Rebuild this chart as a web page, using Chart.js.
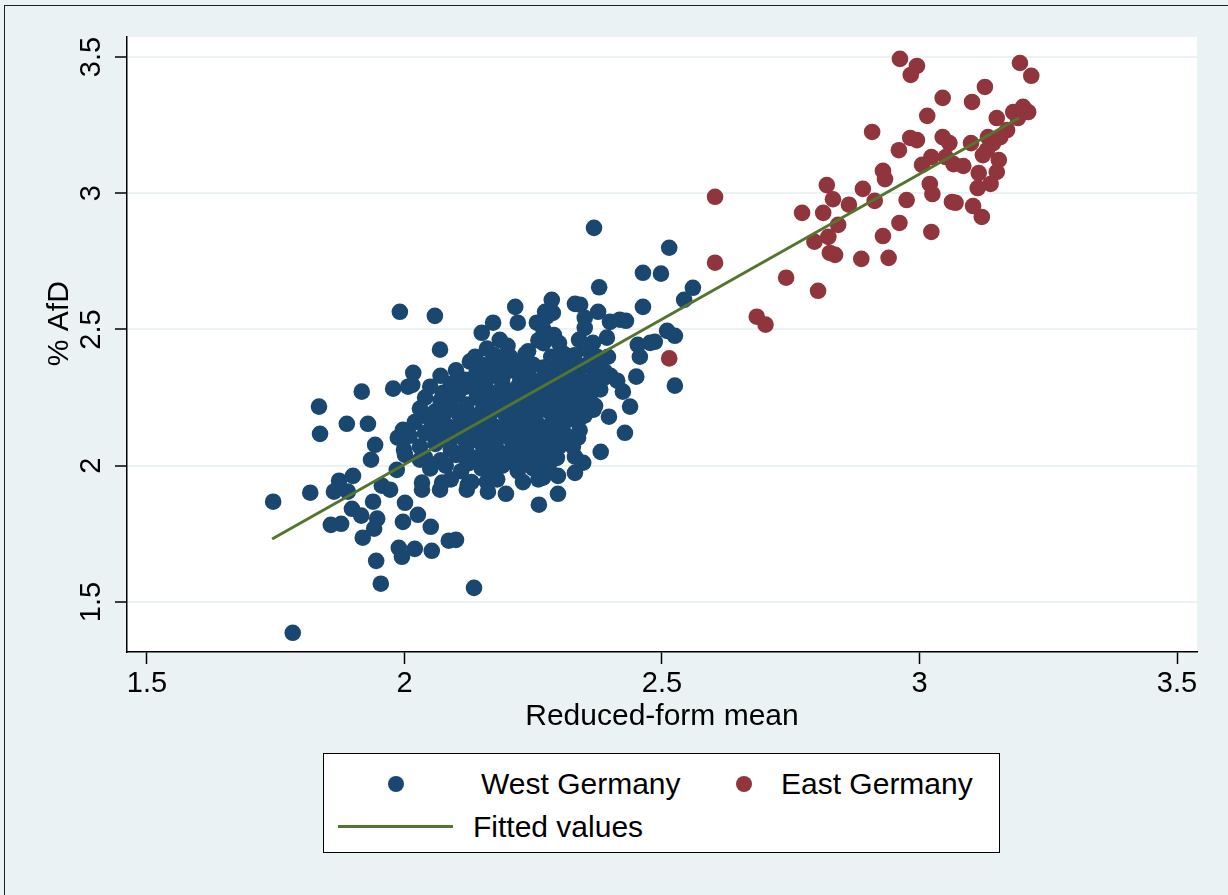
<!DOCTYPE html>
<html>
<head>
<meta charset="utf-8">
<script src="https://cdn.jsdelivr.net/npm/chart.js@4.4.3/dist/chart.umd.min.js"></script>
<style>
  html, body { margin: 0; padding: 0; overflow: hidden; }
  #wrap { position: relative; width: 1228px; height: 895px; background: #EAF2F3; }
  #frame { position: absolute; left: 4px; top: 5px; right: -10px; bottom: -10px;
    border-left: 1.5px solid #222; border-top: 1.5px solid #222; }
  #chart { position: absolute; left: 0; top: 0; }
  #legend { position: absolute; left: 323px; top: 753px; width: 677px; height: 100px;
    box-sizing: border-box; border: 1.5px solid #000; background: #fff;
    font-family: "Liberation Sans", Arial, Helvetica, sans-serif; font-size: 30px; color: #000; }
  #legend .dot { position: absolute; width: 16px; height: 16px; border-radius: 50%; }
  #legend .txt { position: absolute; line-height: 36px; white-space: nowrap; }
  #legend .ln { position: absolute; height: 3px; }
</style>
</head>
<body>
<div id="wrap">
  <div id="frame"></div>
  <canvas id="chart" width="1228" height="895"></canvas>
  <div id="legend"></div>
</div>
<script>
// Axis ranges and tick labels
const xTicks = [1.5, 2, 2.5, 3, 3.5];
const yTicks = [1.5, 2, 2.5, 3, 3.5];
const xRange = [1.4612, 3.5388];
const yRange = [1.3165, 3.5734];

// West Germany districts (reduced-form mean, % AfD)
const westX = [
  1.745, 1.783, 1.817, 1.834, 1.836, 1.888, 1.917, 1.929, 1.943, 1.935, 1.978, 2.007, 1.997, 1.987, 1.999, 1.985,
  1.900, 1.873, 1.863, 1.890, 1.956, 1.972, 1.939, 2.001, 1.898, 1.916, 1.947, 1.941, 1.857, 1.877, 1.997, 1.919,
  1.989, 1.995, 1.945, 1.954,
  2.026, 2.051, 2.086, 2.100, 2.020, 2.053, 2.135, 2.261, 2.197, 2.162, 2.121, 2.069, 2.034,
  1.991, 2.059, 2.215, 2.172, 2.150, 2.069, 2.137, 2.172, 2.185, 2.220, 2.257, 2.273, 2.286,
  2.368, 2.514, 2.463, 2.498, 2.378, 2.560, 2.543, 2.331, 2.341, 2.463, 2.376, 2.288, 2.276, 2.350, 2.399, 2.418,
  2.430, 2.350, 2.510, 2.525, 2.393, 2.339, 2.366, 2.453, 2.477, 2.486, 2.395, 2.457, 2.374,
  2.525, 2.450, 2.413, 2.424, 2.438, 2.397, 2.428, 2.381, 2.367, 2.345, 2.335, 2.341, 2.337, 2.306, 2.327, 2.331,
  2.347, 2.331, 2.296, 2.298, 2.269, 2.298, 2.279, 2.389, 2.373, 2.314,
  2.127, 2.185, 2.152, 2.017, 2.015, 2.114, 2.075, 2.102, 2.034, 2.050, 2.030, 2.001, 2.034, 2.073, 2.123, 2.160,
  2.121, 2.166,
  2.27, 2.29, 2.26, 2.30,
  2.16, 2.20, 2.24, 2.27, 2.31, 2.35,
  2.15, 2.19, 2.22, 2.25, 2.29, 2.32, 2.36,
  2.07, 2.10, 2.14, 2.17, 2.21, 2.24, 2.27, 2.30, 2.33, 2.37, 2.40,
  2.05, 2.09, 2.12, 2.16, 2.19, 2.22, 2.25, 2.28, 2.31, 2.34, 2.38,
  2.04, 2.07, 2.10, 2.14, 2.17, 2.20, 2.23, 2.26, 2.29, 2.32, 2.36,
  2.03, 2.06, 2.09, 2.12, 2.15, 2.18, 2.21, 2.24, 2.27, 2.30, 2.33, 2.37,
  2.02, 2.05, 2.08, 2.11, 2.14, 2.17, 2.20, 2.23, 2.26, 2.29, 2.32,
  2.01, 2.04, 2.07, 2.10, 2.13, 2.16, 2.19, 2.22, 2.25, 2.28, 2.31, 2.34,
  2.03, 2.06, 2.09, 2.12, 2.15, 2.18, 2.21, 2.24, 2.27, 2.30,
  2.04, 2.07, 2.10, 2.14, 2.17, 2.20, 2.23, 2.26, 2.29,
  2.05, 2.08, 2.11, 2.15, 2.19, 2.22, 2.25, 2.28,
  2.09, 2.13, 2.18, 2.23, 2.26,
  // dense core, second layer
  2.175, 2.205, 2.235, 2.285, 2.330,
  2.165, 2.205, 2.235, 2.270, 2.305, 2.345, 2.380,
  2.125, 2.155, 2.190, 2.225, 2.255, 2.285, 2.315, 2.350, 2.385,
  2.105, 2.140, 2.175, 2.205, 2.235, 2.265, 2.295, 2.325, 2.360,
  2.085, 2.120, 2.155, 2.185, 2.215, 2.245, 2.275, 2.305, 2.340,
  2.075, 2.105, 2.135, 2.165, 2.195, 2.225, 2.255, 2.285, 2.315, 2.350,
  2.095, 2.125, 2.155, 2.185, 2.215, 2.245, 2.275, 2.305,
  2.085, 2.115, 2.145, 2.175, 2.205, 2.235, 2.265, 2.290,
  2.115, 2.155, 2.185, 2.215, 2.245, 2.275,
  2.125, 2.160, 2.205, 2.240, 2.270
];
const westY = [
  1.868, 1.387, 1.901, 2.217, 2.117, 2.154, 2.272, 2.154, 2.077, 2.022, 2.283, 2.290, 2.132, 2.103, 2.059, 1.985,
  1.963, 1.945, 1.905, 1.905, 1.927, 1.912, 1.868, 1.864, 1.842, 1.817, 1.806, 1.769, 1.783, 1.787, 1.794, 1.736,
  1.699, 1.666, 1.651, 1.567,
  1.820, 1.776, 1.725, 1.728, 1.695, 1.688, 1.552, 1.857, 1.897, 1.905, 1.912, 1.912, 1.912,
  2.565, 2.550, 2.583, 2.525, 2.488, 2.426, 2.400, 2.407, 2.462, 2.525, 2.525, 2.565, 2.609,
  2.873, 2.800, 2.708, 2.705, 2.655, 2.653, 2.609, 2.594, 2.591, 2.583, 2.565, 2.561, 2.547, 2.543, 2.528, 2.536,
  2.532, 2.506, 2.495, 2.477, 2.470, 2.462, 2.451, 2.444, 2.451, 2.455, 2.400, 2.400, 2.400,
  2.294, 2.327, 2.312, 2.272, 2.217, 2.180, 2.121, 2.051, 2.206, 2.253, 2.217, 2.176, 2.103, 2.095, 2.070, 2.033,
  2.011, 1.974, 2.029, 1.963, 1.956, 1.897, 2.139, 2.345, 2.286, 2.283,
  2.382, 2.363, 2.323, 2.341, 2.297, 2.316, 2.268, 2.279, 2.198, 2.132, 2.022, 2.040, 1.938, 1.938, 1.930, 1.941,
  2.022, 1.985,
  2.50, 2.48, 2.46, 2.45,
  2.43, 2.44, 2.42, 2.45, 2.41, 2.43,
  2.37, 2.39, 2.38, 2.37, 2.39, 2.37, 2.38,
  2.33, 2.35, 2.34, 2.33, 2.35, 2.34, 2.32, 2.35, 2.33, 2.34, 2.33,
  2.29, 2.30, 2.29, 2.28, 2.30, 2.29, 2.28, 2.30, 2.29, 2.30, 2.28,
  2.25, 2.24, 2.26, 2.25, 2.24, 2.26, 2.25, 2.24, 2.26, 2.25, 2.24,
  2.21, 2.20, 2.22, 2.21, 2.20, 2.22, 2.21, 2.20, 2.22, 2.21, 2.20, 2.22,
  2.16, 2.17, 2.15, 2.16, 2.17, 2.15, 2.16, 2.17, 2.15, 2.16, 2.17,
  2.11, 2.12, 2.13, 2.11, 2.12, 2.13, 2.11, 2.12, 2.13, 2.11, 2.12, 2.13,
  2.07, 2.08, 2.06, 2.07, 2.08, 2.06, 2.07, 2.08, 2.06, 2.07,
  2.03, 2.02, 2.04, 2.03, 2.02, 2.04, 2.03, 2.02, 2.04,
  1.99, 2.00, 1.98, 1.99, 2.00, 1.98, 1.99, 2.00,
  1.95, 1.94, 1.95, 1.94, 1.95,
  // dense core, second layer
  2.405, 2.40, 2.41, 2.40, 2.405,
  2.36, 2.355, 2.365, 2.36, 2.355, 2.365, 2.36,
  2.315, 2.31, 2.32, 2.315, 2.31, 2.32, 2.315, 2.31, 2.32,
  2.27, 2.275, 2.265, 2.27, 2.275, 2.265, 2.27, 2.275, 2.265,
  2.23, 2.225, 2.235, 2.23, 2.225, 2.235, 2.23, 2.225, 2.235,
  2.185, 2.19, 2.18, 2.185, 2.19, 2.18, 2.185, 2.19, 2.18, 2.185,
  2.14, 2.135, 2.145, 2.14, 2.135, 2.145, 2.14, 2.135,
  2.095, 2.10, 2.09, 2.095, 2.10, 2.09, 2.095, 2.10,
  2.05, 2.055, 2.045, 2.05, 2.055, 2.045,
  2.01, 2.005, 2.015, 2.01, 2.005
];

// East Germany districts
const eastX = [
  2.514, 2.603, 2.603, 2.772, 2.813, 2.820, 2.832, 2.863, 2.842, 2.823, 2.796, 2.826, 2.836, 2.741, 2.803, 2.684,
  2.701, 2.962, 2.995, 2.983, 3.195, 3.217, 3.127, 3.045, 3.102, 3.015, 2.908, 3.150, 3.182, 3.201, 3.211, 3.191,
  3.170, 3.157, 3.133, 3.143, 3.131, 3.123, 3.100, 3.045, 3.058, 2.982, 2.995, 2.960, 3.023, 3.005, 3.051, 3.066,
  3.085, 3.154, 3.150, 3.115, 3.138, 3.113, 2.929, 2.933, 3.020, 3.025, 2.890, 2.913, 2.975, 3.063, 3.070, 3.104,
  3.121, 2.961, 3.023, 2.929, 2.887, 2.940
];
const eastY = [
  2.394, 2.987, 2.745, 2.928, 2.928, 3.030, 2.978, 2.958, 2.884, 2.840, 2.822, 2.781, 2.774, 2.690, 2.642, 2.547,
  2.518, 3.493, 3.467, 3.434, 3.478, 3.431, 3.390, 3.350, 3.335, 3.284, 3.225, 3.276, 3.298, 3.317, 3.298, 3.276,
  3.232, 3.206, 3.206, 3.184, 3.158, 3.140, 3.184, 3.206, 3.184, 3.203, 3.195, 3.158, 3.133, 3.104, 3.133, 3.107,
  3.100, 3.122, 3.078, 3.074, 3.034, 3.019, 3.082, 3.052, 3.034, 2.997, 3.016, 2.972, 2.975, 2.968, 2.965, 2.953,
  2.913, 2.891, 2.858, 2.843, 2.759, 2.763
];

// Fitted values (endpoints of the regression line)
const fitX = [1.743, 3.193];
const fitY = [1.731, 3.276];

const colors = { west: '#1A476F', east: '#90353B', fit: '#55752F', grid: '#EAF2F3' };
const fontFamily = '"Liberation Sans", Arial, Helvetica, sans-serif';

const toPoints = (xs, ys) => xs.map((x, i) => ({ x, y: ys[i] }));

// White plot region behind grid and marks.
const plotBackground = {
  id: 'plotBackground',
  beforeDraw(chart) {
    const { ctx, chartArea: a } = chart;
    ctx.save();
    ctx.fillStyle = '#fff';
    ctx.fillRect(a.left, a.top, a.right - a.left, a.bottom - a.top);
    ctx.restore();
  }
};

Chart.defaults.font.family = fontFamily;
Chart.defaults.color = '#000';

new Chart(document.getElementById('chart'), {
  type: 'scatter',
  data: {
    datasets: [
      {
        type: 'line',
        label: 'Fitted values',
        data: toPoints(fitX, fitY),
        borderColor: colors.fit,
        borderWidth: 3,
        pointRadius: 0,
        fill: false
      },
      {
        label: 'East Germany',
        data: toPoints(eastX, eastY),
        backgroundColor: colors.east,
        borderWidth: 0,
        pointRadius: 8.3
      },
      {
        label: 'West Germany',
        data: toPoints(westX, westY),
        backgroundColor: colors.west,
        borderWidth: 0,
        pointRadius: 8.3
      }
    ]
  },
  options: {
    responsive: false,
    animation: false,
    devicePixelRatio: 1,
    layout: { padding: { left: 0, top: 37, right: 31, bottom: 157 } },
    plugins: { legend: { display: false }, tooltip: { enabled: false } },
    scales: {
      x: {
        type: 'linear',
        min: xRange[0],
        max: xRange[1],
        afterBuildTicks: s => { s.ticks = xTicks.map(v => ({ value: v })); },
        afterFit: s => { s.height = 86; },
        grid: { drawOnChartArea: false, tickLength: 12, tickColor: '#000', tickWidth: 1.5 },
        border: { display: true, color: '#000', width: 1.5 },
        ticks: { font: { size: 29 }, padding: 3, maxRotation: 0, autoSkip: false, callback: v => String(v) },
        title: { display: true, text: 'Reduced-form mean', font: { size: 30 }, padding: { top: 0, bottom: 3 } }
      },
      y: {
        type: 'linear',
        min: yRange[0],
        max: yRange[1],
        afterBuildTicks: s => { s.ticks = yTicks.map(v => ({ value: v })); },
        afterFit: s => { s.width = 127; },
        grid: { color: colors.grid, lineWidth: 2, tickLength: 12, tickColor: '#000', tickWidth: 1.5 },
        border: { display: true, color: '#000', width: 1.5 },
        ticks: { font: { size: 29 }, padding: 3, minRotation: 90, maxRotation: 90, crossAlign: 'center',
          autoSkip: false, callback: v => String(v) },
        // leading spaces nudge the rotated title upward, as in the original
        title: { display: true, text: '     % AfD', font: { size: 30 }, padding: { top: 42, bottom: 0 } }
      }
    }
  },
  plugins: [plotBackground]
});

// Legend box below the plot
const legend = document.getElementById('legend');
legend.innerHTML = `
  <span class="dot" style="left:64px;top:22px;background:${colors.west}"></span>
  <span class="txt" style="left:157px;top:12px">West Germany</span>
  <span class="dot" style="left:412px;top:22px;background:${colors.east}"></span>
  <span class="txt" style="left:457px;top:12px">East Germany</span>
  <span class="ln" style="left:14px;width:115px;top:71px;background:${colors.fit}"></span>
  <span class="txt" style="left:149px;top:55px">Fitted values</span>`;
</script>
</body>
</html>
